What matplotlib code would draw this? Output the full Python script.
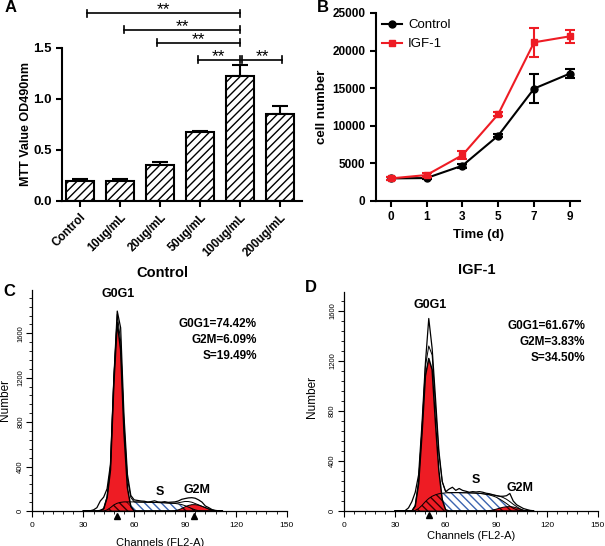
import numpy as np
import matplotlib
matplotlib.use('Agg')
import matplotlib.pyplot as plt
from matplotlib.lines import Line2D
from matplotlib.ticker import MultipleLocator, FormatStrFormatter

plt.rcParams['font.family'] = ['Liberation Sans', 'DejaVu Sans']
plt.rcParams['hatch.linewidth'] = 1.0

# ---- panel A: MTT assay
doses = ['Control', '10ug/mL', '20ug/mL', '50ug/mL', '100ug/mL', '200ug/mL']
mtt = [0.20, 0.20, 0.35, 0.675, 1.225, 0.85]
mtt_err = [0.02, 0.02, 0.03, 0.01, 0.11, 0.08]
sig_start = [0.18, 1.1, 1.93, 2.94, 4.06]
sig_end = [4.0, 4.0, 4.0, 4.0, 5.04]
sig_level = [1.84, 1.68, 1.55, 1.385, 1.385]

# ---- panel B: growth curve
days = ['0', '1', '3', '5', '7', '9']
ctrl = [3000, 3050, 4700, 8700, 14950, 16950]
ctrl_err = [150, 150, 250, 200, 1900, 600]
igf = [3000, 3450, 6100, 11550, 21100, 21900]
igf_err = [200, 250, 500, 300, 1950, 900]

# ---- panels C/D: cell cycle histograms (channel grid)
ch = [30, 32, 34, 36, 38, 40, 42, 44, 46, 48, 50, 52, 54, 56, 58, 60, 62, 64, 66, 68, 70,
      72, 74, 76, 78, 80, 82, 84, 86, 88, 90, 92, 94, 96, 98, 100, 102, 104, 106, 108, 110, 112]

c_env = [0, 0, 2, 10, 30, 90, 125, 200, 420, 1200, 1800, 1650, 850, 330, 140, 100, 95, 90, 88, 80, 85,
         92, 82, 80, 84, 78, 80, 82, 90, 105, 112, 118, 120, 115, 100, 80, 45, 30, 12, 5, 2, 0]
c_g0 = [0, 0, 0, 0, 0, 5, 20, 120, 370, 1150, 1700, 1450, 700, 210, 40, 0, 0, 0, 0, 0, 0,
        0, 0, 0, 0, 0, 0, 0, 0, 0, 0, 0, 0, 0, 0, 0, 0, 0, 0, 0, 0, 0]
c_s = [0, 0, 0, 0, 0, 0, 0, 10, 30, 55, 70, 78, 82, 82, 82, 82, 81, 80, 80, 79, 78,
       77, 76, 75, 74, 72, 70, 68, 64, 58, 48, 35, 22, 10, 3, 0, 0, 0, 0, 0, 0, 0]
c_g2 = [0, 0, 0, 0, 0, 0, 0, 0, 0, 0, 0, 0, 0, 0, 0, 0, 0, 0, 0, 0, 0,
        0, 0, 0, 0, 0, 0, 3, 10, 22, 38, 50, 57, 57, 52, 42, 30, 18, 8, 3, 0, 0]

d_env = [0, 0, 0, 3, 25, 75, 150, 290, 700, 1180, 1540, 1300, 900, 480, 235, 155, 175, 190, 165, 180, 165,
         158, 150, 155, 152, 155, 150, 142, 138, 130, 122, 118, 118, 122, 140, 80, 50, 35, 20, 12, 5, 2]
d_g0 = [0, 0, 0, 0, 0, 0, 40, 220, 620, 1080, 1220, 1130, 700, 320, 90, 10, 0, 0, 0, 0, 0,
        0, 0, 0, 0, 0, 0, 0, 0, 0, 0, 0, 0, 0, 0, 0, 0, 0, 0, 0, 0, 0]
d_s = [0, 0, 0, 0, 0, 0, 5, 20, 45, 75, 100, 118, 130, 138, 142, 145, 146, 147, 147, 147, 146,
       146, 145, 144, 143, 141, 138, 134, 128, 120, 110, 95, 78, 60, 40, 22, 10, 3, 0, 0, 0, 0]
d_g2 = [0, 0, 0, 0, 0, 0, 0, 0, 0, 0, 0, 0, 0, 0, 0, 0, 0, 0, 0, 0, 0,
        0, 0, 0, 0, 0, 0, 0, 3, 8, 15, 23, 30, 34, 35, 32, 25, 15, 6, 1, 0, 0]

c_stats = 'G0G1=74.42%\nG2M=6.09%\nS=19.49%'
d_stats = 'G0G1=61.67%\nG2M=3.83%\nS=34.50%'

red = '#ee1c24'
blue = '#3b64b0'

fig = plt.figure(figsize=(6.05, 5.46), dpi=100)

# ================= A
axA = fig.add_axes([0.1025, 0.6319, 0.3967, 0.2802])
xa = np.arange(len(doses))
axA.bar(xa, mtt, 0.7, color='white', edgecolor='black', linewidth=1.5, hatch='////', zorder=2)
axA.errorbar(xa, mtt, yerr=[np.zeros(len(xa)), mtt_err], fmt='none', ecolor='black',
             elinewidth=1.5, capsize=6, capthick=1.5, zorder=1)
for x1, x2, lev in zip(sig_start, sig_end, sig_level):
    axA.plot([x1, x2], [lev, lev], color='black', lw=1.2, clip_on=False)
    for e in (x1, x2):
        axA.plot([e, e], [lev - 0.035, lev + 0.035], color='black', lw=1.2, clip_on=False)
    axA.text((x1 + x2) / 2, lev - 0.01, '**', ha='center', va='baseline', fontsize=12.5)
axA.set_xlim(-0.45, 5.55)
axA.set_ylim(0, 1.5)
axA.set_yticks([0, 0.5, 1.0, 1.5])
axA.yaxis.set_major_formatter(FormatStrFormatter('%.1f'))
axA.set_xticks(xa)
axA.set_xticklabels(doses, rotation=45, ha='right', rotation_mode='anchor',
                    fontsize=8.5, fontweight='bold')
for lab in axA.get_yticklabels():
    lab.set_fontweight('bold')
    lab.set_fontsize(9.5)
axA.set_ylabel('MTT Value OD490nm', fontsize=9, fontweight='bold')
axA.yaxis.set_label_coords(-0.125, 0.5)
for sp in ['top', 'right']:
    axA.spines[sp].set_visible(False)
for sp in ['left', 'bottom']:
    axA.spines[sp].set_linewidth(1.5)
axA.tick_params(width=1.5, length=4)

# ================= B
axB = fig.add_axes([0.6215, 0.6319, 0.3372, 0.3443])
xb = np.arange(len(days))
axB.errorbar(xb, ctrl, yerr=ctrl_err, fmt='none', ecolor='black', elinewidth=1.5,
             capsize=3.5, capthick=1.5)
axB.plot(xb, ctrl, color='black', marker='o', ms=5, lw=1.5)
axB.errorbar(xb, igf, yerr=igf_err, fmt='none', ecolor=red, elinewidth=1.5,
             capsize=3.5, capthick=1.5)
axB.plot(xb, igf, color=red, marker='s', ms=5, lw=1.5)
handles = [Line2D([], [], color='black', marker='o', ms=5, lw=1.5),
           Line2D([], [], color=red, marker='s', ms=5, lw=1.5)]
axB.legend(handles, ['Control', 'IGF-1'], loc='upper left', bbox_to_anchor=(-0.03, 1.03),
           frameon=False, fontsize=9.5, handlelength=1.5, handletextpad=0.5, labelspacing=0.5)
axB.set_xlim(-0.41, 5.28)
axB.set_ylim(0, 25000)
axB.set_yticks([0, 5000, 10000, 15000, 20000, 25000])
axB.set_xticks(xb)
axB.set_xticklabels(days)
for lab in axB.get_xticklabels() + axB.get_yticklabels():
    lab.set_fontweight('bold')
    lab.set_fontsize(8.5)
axB.set_xlabel('Time (d)', fontsize=9.5, fontweight='bold')
axB.set_ylabel('cell number', fontsize=9.5, fontweight='bold')
axB.yaxis.set_label_coords(-0.235, 0.5)
for sp in ['top', 'right']:
    axB.spines[sp].set_visible(False)
for sp in ['left', 'bottom']:
    axB.spines[sp].set_linewidth(1.5)
axB.tick_params(width=1.5, length=4)


# ================= C / D
def cycle_panel(ax, env, g0, s, g2, ymax, tri, tri_y):
    env = np.array(env)
    g0 = np.array(g0)
    s = np.array(s)
    g2 = np.array(g2)
    ax.fill_between(ch, 0, env, facecolor='white', edgecolor='none', zorder=1)
    ax.fill_between(ch, 0, s, facecolor='white', edgecolor=blue, hatch='\\\\\\\\',
                    linewidth=0, zorder=2)
    ax.fill_between(ch, 0, g0, facecolor=red, edgecolor='none', zorder=3)
    ax.fill_between(ch, 0, g2, facecolor=red, edgecolor='none', zorder=3)
    ax.fill_between(ch, 0, np.minimum(s, g0), facecolor='none', edgecolor='#3a0000',
                    hatch='\\\\\\\\', linewidth=0, zorder=4)
    ax.fill_between(ch, 0, np.minimum(s, g2), facecolor='none', edgecolor='#3a0000',
                    hatch='\\\\\\\\', linewidth=0, zorder=4)
    ax.plot(ch, g0, color='black', lw=1.1, zorder=5)
    ax.plot(ch, s, color='black', lw=0.7, zorder=5)
    ax.plot(ch, g2, color='black', lw=0.7, zorder=5)
    ax.plot(ch, g0 + s + g2, color='black', lw=0.7, zorder=5)
    ax.plot(ch, env, color='black', lw=0.9, zorder=6)
    ax.plot(tri, [tri_y] * len(tri), linestyle='none', marker='^', color='black', ms=5,
            clip_on=False, zorder=7)
    ax.set_xlim(0, 150)
    ax.set_ylim(0, ymax)
    ax.set_xticks([0, 30, 60, 90, 120, 150])
    ax.set_yticks([0, 400, 800, 1200, 1600])
    ax.xaxis.set_minor_locator(MultipleLocator(6))
    ax.yaxis.set_minor_locator(MultipleLocator(80))
    ax.tick_params(which='major', direction='out', length=4, width=0.8)
    ax.tick_params(which='minor', direction='out', length=2, width=0.6)
    ax.tick_params(axis='x', labelsize=6, pad=4)
    ax.tick_params(axis='y', labelsize=5.5, pad=2)
    for lab in ax.get_yticklabels():
        lab.set_rotation(90)
        lab.set_va('center')
    for sp in ['top', 'right']:
        ax.spines[sp].set_visible(False)
    for sp in ['left', 'bottom']:
        ax.spines[sp].set_linewidth(0.9)
    ax.set_xlabel('Channels (FL2-A)', fontsize=8)
    ax.set_ylabel('Number', fontsize=8.5)


axC = fig.add_axes([0.0537, 0.0641, 0.4203, 0.4048])
cycle_panel(axC, c_env, c_g0, c_s, c_g2, 1990, [50, 95], -45)
axC.xaxis.set_label_coords(0.5, -0.12)
axC.yaxis.set_label_coords(-0.085, 0.5)
axC.text(0.51, 1.075, 'Control', transform=axC.transAxes, ha='center', va='center',
         fontsize=10.5, fontweight='bold')
axC.text(50.5, 1957, 'G0G1', ha='center', va='center', fontsize=9, fontweight='bold')
axC.text(132.4, 1735, c_stats, ha='right', va='top', fontsize=8.5, fontweight='bold',
         linespacing=1.45)
axC.text(75.2, 174, 'S', ha='center', va='center', fontsize=9, fontweight='bold')
axC.text(96.9, 189, 'G2M', ha='center', va='center', fontsize=9, fontweight='bold')

axD = fig.add_axes([0.5691, 0.0641, 0.4188, 0.4016])
cycle_panel(axD, d_env, d_g0, d_s, d_g2, 1754, [50], -32)
axD.xaxis.set_label_coords(0.5, -0.09)
axD.yaxis.set_label_coords(-0.104, 0.52)
axD.text(0.524, 1.10, 'IGF-1', transform=axD.transAxes, ha='center', va='center',
         fontsize=10.5, fontweight='bold')
axD.text(50.7, 1648, 'G0G1', ha='center', va='center', fontsize=9, fontweight='bold')
axD.text(142.5, 1530, d_stats, ha='right', va='top', fontsize=8.5, fontweight='bold',
         linespacing=1.45)
axD.text(77.8, 248, 'S', ha='center', va='center', fontsize=9, fontweight='bold')
axD.text(104, 181, 'G2M', ha='center', va='center', fontsize=9, fontweight='bold')

# panel letters
fig.text(5 / 605, 1 - 8 / 546, 'A', fontsize=12, fontweight='bold', va='center')
fig.text(317 / 605, 1 - 7 / 546, 'B', fontsize=12, fontweight='bold', va='center')
fig.text(3 / 605, 1 - 291 / 546, 'C', fontsize=12, fontweight='bold', va='center')
fig.text(305 / 605, 1 - 288 / 546, 'D', fontsize=12, fontweight='bold', va='center')

fig.savefig('out.png', dpi=100)
